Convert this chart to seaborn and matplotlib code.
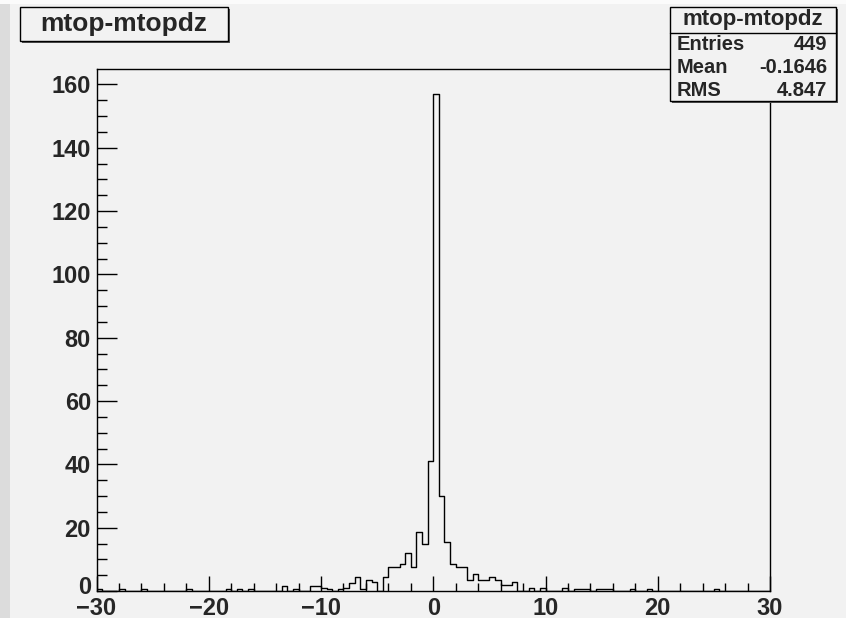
import numpy as np
import pandas as pd
import matplotlib
matplotlib.use("Agg")
import matplotlib.pyplot as plt
from matplotlib.patches import Rectangle
from matplotlib.lines import Line2D
from matplotlib.ticker import MultipleLocator
from matplotlib.transforms import ScaledTranslation
import seaborn as sns

# Histogram of mtop - mtopdz: 120 bins of width 0.5 on [-30, 30]
hist_name = "mtop-mtopdz"
bin_lo = [-30.0, -28.0, -26.0, -22.0, -18.5, -17.5, -16.5, -13.5, -12.5,
          -11.0, -10.5, -10.0, -9.5, -8.5, -8.0, -7.5, -7.0, -6.5, -6.0,
          -5.5, -4.5, -4.0, -3.5, -3.0, -2.5, -2.0, -1.5, -1.0, -0.5,
          0.0, 0.5, 1.0, 1.5, 2.0, 2.5, 3.0, 3.5, 4.0, 4.5, 5.0, 5.5,
          6.0, 6.5, 7.0, 8.5, 9.5, 11.5, 12.5, 13.0, 13.5, 14.5, 15.0,
          15.5, 17.5, 19.0, 25.0]
bin_counts = [0.5, 0.5, 0.5, 0.5, 0.5, 0.5, 0.5, 1.5, 0.5,
              1.5, 1.5, 1.0, 0.5, 0.5, 1.0, 2.5, 4.5, 0.5, 3.5,
              3.0, 4.5, 7.5, 7.5, 8.5, 12.0, 7.5, 18.5, 15.0, 41.0,
              157.0, 30.0, 15.5, 8.5, 7.5, 7.5, 3.5, 5.5, 3.5, 3.5, 4.5, 3.5,
              2.0, 2.0, 3.0, 1.0, 1.0, 1.0, 0.5, 0.5, 0.5, 0.5, 0.5,
              0.5, 0.5, 0.5, 0.5]
stat_labels = ["Entries", "Mean", "RMS"]
stat_values = ["449", "-0.1646", "4.847"]

x_min, x_max, bin_width = -30.0, 30.0, 0.5

df = pd.DataFrame({"x": np.asarray(bin_lo) + bin_width / 2, "w": bin_counts})

sns.set_style("white")
plt.rcParams["font.family"] = ["Liberation Sans", "DejaVu Sans"]
plt.rcParams["font.weight"] = "bold"

W, H = 846, 618
bg = "#f2f2f2"
fig = plt.figure(figsize=(W / 100, H / 100), dpi=100, facecolor=bg)


def fx(px):
    return px / W


def fy(py):
    return 1 - py / H


# canvas bevel
fig.patches.append(Rectangle((0, 0), fx(10), 1, transform=fig.transFigure,
                             facecolor="#dcdcdc", edgecolor="none", zorder=0))
fig.patches.append(Rectangle((0, fy(4)), 1, fy(0) - fy(4), transform=fig.transFigure,
                             facecolor="#fbfbfb", edgecolor="none", zorder=0))

left, right, top, bottom = 96.5, 770, 69, 591
ax = fig.add_axes([fx(left), fy(bottom), fx(right) - fx(left), fy(top) - fy(bottom)])
ax.set_facecolor(bg)

sns.histplot(data=df, x="x", weights="w", binwidth=bin_width, binrange=(x_min, x_max),
             element="step", fill=False, color="black", linewidth=1.0, ax=ax)

ymax = max(bin_counts) * 1.05
ax.set_xlim(x_min, x_max)
ax.set_ylim(0, ymax)
ax.set_xlabel("")
ax.set_ylabel("")

for s in ax.spines.values():
    s.set_visible(True)
    s.set_color("black")
    s.set_linewidth(1.0)

ax.xaxis.set_major_locator(MultipleLocator(10))
ax.xaxis.set_minor_locator(MultipleLocator(2))
ax.yaxis.set_major_locator(MultipleLocator(20))
ax.yaxis.set_minor_locator(MultipleLocator(5))
ax.tick_params(axis="x", which="major", direction="in", length=11, width=1,
               color="black", labelsize=17, pad=4, top=False, bottom=True)
ax.tick_params(axis="x", which="minor", direction="in", length=5.6, width=1,
               color="black", top=False, bottom=True)
ax.tick_params(axis="y", which="major", direction="in", length=14.5, width=1,
               color="black", labelsize=17, pad=4, right=False, left=True)
ax.tick_params(axis="y", which="minor", direction="in", length=7.2, width=1,
               color="black", right=False, left=True)
fig.canvas.draw()
for lab in ax.get_xticklabels() + ax.get_yticklabels():
    lab.set_fontweight("bold")
# lift the zero label on the y axis clear of the x labels
for lab in ax.get_yticklabels():
    if lab.get_text() == "0":
        lab.set_transform(lab.get_transform() + ScaledTranslation(0, 4 / 72, fig.dpi_scale_trans))


def box(x0, y0, x1, y1, z=5):
    # shadow then box
    fig.patches.append(Rectangle((fx(x0 + 2), fy(y1 + 2)), fx(x1 - x0), fy(y0) - fy(y1),
                                 transform=fig.transFigure, facecolor="#555555",
                                 edgecolor="none", zorder=z))
    fig.patches.append(Rectangle((fx(x0), fy(y1)), fx(x1 - x0), fy(y0) - fy(y1),
                                 transform=fig.transFigure, facecolor=bg,
                                 edgecolor="black", linewidth=1.0, zorder=z + 0.1))


# title box
box(20, 7, 228, 41)
fig.text(fx(124), fy(24), hist_name, ha="center", va="center", fontsize=19,
         fontweight="bold", zorder=10)

# statistics box
box(670, 7, 836, 101)
fig.lines.append(Line2D([fx(670), fx(836)], [fy(32.5), fy(32.5)], transform=fig.transFigure,
                        color="black", linewidth=1.0, zorder=10))
fig.text(fx(753), fy(20), hist_name, ha="center", va="center", fontsize=16,
         fontweight="bold", zorder=10)
for i, (lab, val) in enumerate(zip(stat_labels, stat_values)):
    yy = 45 + i * 22.5
    fig.text(fx(677), fy(yy), lab, ha="left", va="center", fontsize=14.5,
             fontweight="bold", zorder=10)
    fig.text(fx(827), fy(yy), val, ha="right", va="center", fontsize=14.5,
             fontweight="bold", zorder=10)

fig.savefig("out.png", dpi=100, facecolor=bg)
